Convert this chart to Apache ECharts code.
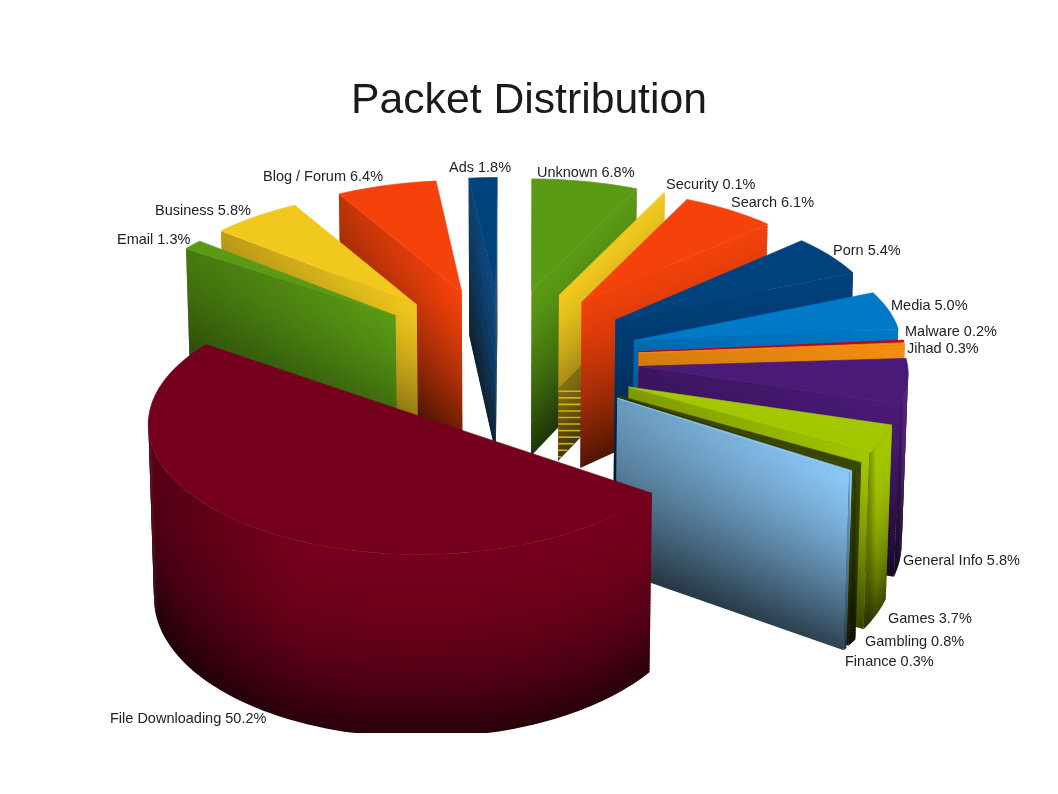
<!DOCTYPE html>
<html>
<head>
<meta charset="utf-8">
<style>html,body{margin:0;padding:0;background:#fff}#c{width:1058px;height:794px}</style>
<script src="https://cdn.jsdelivr.net/npm/echarts@6/dist/echarts.min.js"></script>
</head>
<body>
<div id="c"></div>
<script>
// --- data (clockwise, starting with the largest slice) ---
const categories = ['File Downloading','Email','Business','Blog / Forum','Ads','Unknown','Security','Search','Porn','Media','Malware','Jihad','General Info','Games','Gambling','Finance'];
const shares = [50.2,1.3,5.8,6.4,1.8,6.8,0.1,6.1,5.4,5.0,0.2,0.3,5.8,3.7,0.8,0.3];
const colors = ['#74001e','#5a9a14','#f0c81e','#f4420a','#00427e','#5a9a14','#f0c81e','#f4420a','#00427e','#0079c8','#c40010','#f59010','#4a1a78','#a4c800','#3a4500','#8bc9f8'];

// --- view of the exploded 3D pie ---
const VIEW = {cx:502.5, cy:358, aL:269, aR:268.5, b:124, h:168, kx:0.04, ky:0.05, kz:0.05, ex:0.5085, ey:0.57, start:124.5, clipY:733, layers:60};
const LABEL_SPOTS = [[110,719],[117,240],[155,211],[263,177],[449,168],[537,173],[666,185],[731,203],[833,251],[891,306],[905,332],[907,349],[903,561],[888,619],[865,642],[845,662]];
const HATCHED = 'Security';

const D2R = Math.PI/180;
const total = shares.reduce((s,v)=>s+v,0);
const spans = [];
shares.reduce((acc,v)=>{const to=acc+v/total*360;const off=acc>=360?360:0;spans.push([acc-off,to-off]);return to;},VIEW.start);

function rawProject(X,Y,Z){
  const a=X>0?VIEW.aR:VIEW.aL;
  return [VIEW.cx+a*X/(1+VIEW.kx*Y)*(1+0.016*Z), VIEW.cy-VIEW.b*Y/(1+VIEW.ky*Y)-VIEW.h*Z/(1+VIEW.kz*Y)];
}
function clip(p){return [p[0],Math.min(VIEW.clipY,p[1])];}
function shade(hex,f){
  const n=parseInt(hex.slice(1),16);
  const c=[(n>>16)&255,(n>>8)&255,n&255].map(v=>Math.round(v*f));
  return 'rgb('+c.join(',')+')';
}
function poly(points,fill,stroke){
  const style={fill};
  if(stroke){style.stroke=stroke;style.lineWidth=0.7;}
  return {type:'polygon',shape:{points:points.map(clip)},style,silent:true};
}
function grad(x0,x1,stops){
  return new echarts.graphic.LinearGradient(x0,0,x1,0,stops,true);
}
function sliceFaces(i){
  const [from,to]=spans[i], mid=(from+to)/2*D2R, col=colors[i];
  const ox=VIEW.ex*Math.sin(mid), oy=VIEW.ey*Math.cos(mid);
  const inner=(deg,t,Z)=>rawProject(ox+t*Math.sin(deg*D2R),oy+t*Math.cos(deg*D2R),Z);
  const rim=(deg,Z)=>inner(deg,1,Z);
  const faces=[], N=VIEW.layers, lap=0.6/N, hatched=categories[i]===HATCHED;
  // cut faces: stacked ribbons, darker downward, brighter toward the right-hand end
  [[from,Math.sin(from*D2R)<0,true],[to,Math.sin(to*D2R)>0,false]].forEach(([deg,vis,isStart])=>{
    if(!vis) return;
    const ax=inner(deg,0,0)[0], rx=rim(deg,0)[0], lo=Math.min(ax,rx), hi=Math.max(ax,rx)+0.01;
    const dim=isStart?0.78:1-0.24*Math.min(1,Math.max(0,(deg-40)/84));
    for(let k=0;k<N;k++){
      const z0=-k/N, z1=-(k+1)/N-lap;
      let v=1-0.66*Math.pow((k+0.5)/N,1.4);
      if(hatched && k/N>0.56) v*=0.8;
      faces.push(poly([inner(deg,0,z0),rim(deg,z0),rim(deg,z1),inner(deg,0,z1)],grad(lo,hi,[{offset:0,color:shade(col,dim*v)},{offset:1,color:shade(col,v)}])));
    }
    if(hatched){
      // the very thin slice shows horizontal banding in the lower part of its face
      const A=inner(deg,0,-1), R=rim(deg,-1);
      for(let z=-0.58;z>-1;z-=0.04){
        const P=inner(deg,0,z), y=P[1];
        const xEnd=Math.min(P[0]+40,A[0]+(A[1]-y)/(A[1]-R[1])*(R[0]-A[0]));
        if(xEnd<=P[0]) continue;
        faces.push(poly([[P[0],y],[xEnd,y],[xEnd,y+1.6],[P[0],y+1.6]],shade(col,0.88)));
      }
    }
  });
  // outer wall, only the stretch that faces the viewer
  const lo=Math.max(from,90), hi=Math.min(to,270);
  if(lo<hi){
    const m=Math.max(2,Math.ceil((hi-lo)/1.5)), degs=[];
    for(let j=0;j<=m;j++) degs.push(lo+(hi-lo)*j/m);
    const left=rim(hi,0)[0], right=rim(lo,0)[0];
    for(let k=0;k<N;k++){
      const z0=-k/N, z1=-(k+1)/N-lap;
      const upper=degs.map(d=>rim(d,z0)), lower=degs.slice().reverse().map(d=>rim(d,z1));
      const v=1-0.64*Math.pow((k+0.5)/N,2);
      faces.push(poly(upper.concat(lower),grad(left,right+0.01,[{offset:0,color:shade(col,0.72*v)},{offset:0.3,color:shade(col,v)},{offset:1,color:shade(col,v)}])));
    }
  }
  // top
  const m=Math.max(2,Math.ceil((to-from)/1.5));
  const top=[inner(from,0,0)];
  for(let j=0;j<=m;j++) top.push(rim(from+(to-from)*j/m,0));
  faces.push(poly(top,col,col));
  return faces;
}
// painter's order: from the far side of the pie to the near side
const paintOrder = categories.map((_,i)=>i).sort((p,q)=>{
  const d=s=>{let m=((spans[s][0]+spans[s][1])/2)%360;return Math.min(m,360-m);};
  return d(p)-d(q);
});

const chart=echarts.init(document.getElementById('c'),null,{renderer:'canvas'});
chart.setOption({
  animation:false,
  backgroundColor:'#ffffff',
  title:{text:'Packet Distribution',left:'center',top:75,z:20,textStyle:{fontFamily:'Liberation Sans',fontWeight:'normal',fontSize:42.7,color:'#1a1a1a'}},
  series:[
    {type:'custom',coordinateSystem:'none',silent:true,z:2,data:paintOrder.map(i=>[i,shares[i]]),
     renderItem(params,api){return {type:'group',children:sliceFaces(api.value(0))};}},
    {type:'custom',coordinateSystem:'none',silent:true,z:10,data:categories.map((c,i)=>[i,shares[i]]),
     renderItem(params,api){
       const i=api.value(0);
       return {type:'text',z2:1000,x:LABEL_SPOTS[i][0],y:LABEL_SPOTS[i][1],silent:true,style:{text:categories[i]+' '+shares[i].toFixed(1)+'%',fill:'#222222',font:'14.5px "Liberation Sans"',textAlign:'left',textVerticalAlign:'middle'}};
     }}
  ]
});
</script>
</body>
</html>
